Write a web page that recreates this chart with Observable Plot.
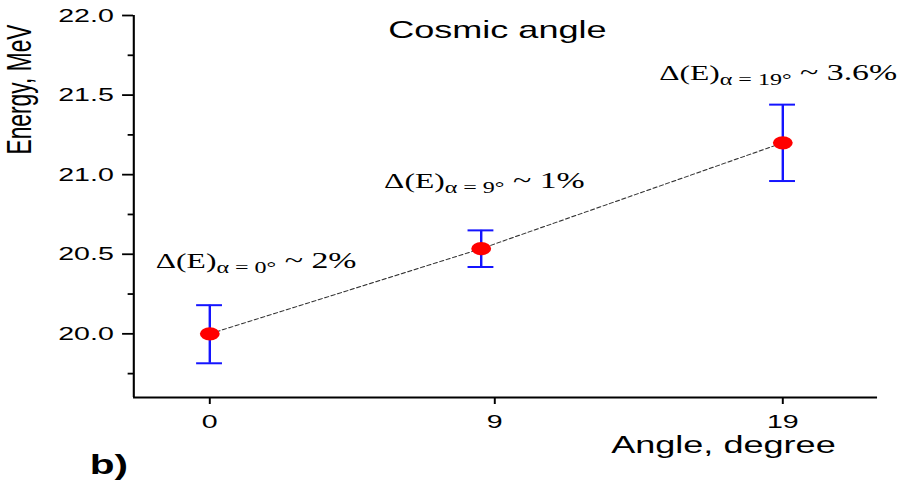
<!DOCTYPE html>
<html>
<head>
<meta charset="utf-8">
<script src="https://cdn.jsdelivr.net/npm/d3@7"></script>
<script src="https://cdn.jsdelivr.net/npm/@observablehq/plot@0.6"></script>
<style>
  html, body { margin: 0; padding: 0; background: #fff; }
  #chart { width: 902px; height: 484px; overflow: hidden; }
</style>
</head>
<body>
<div id="chart"></div>
<script>
// ---- data ----
const angles = [0, 9, 19];
const energy = [20.0, 20.535, 21.2];
const errLow = [19.815, 20.42, 20.96];
const errHigh = [20.18, 20.65, 21.44];

const yMajorTicks = [20.0, 20.5, 21.0, 21.5, 22.0];
const yMinorTicks = [19.75, 20.25, 20.75, 21.25, 21.75];
const xTickValues = [0, 9.45, 19];
const xTickLabels = ["0", "9", "19"];

const annAngles = ["0", "9", "19"];
const annPercents = ["2%", "1%", "3.6%"];
const annX = [-1.79, 5.78, 14.9];
const annY = [20.415, 20.918, 21.597];

const chartTitle = "Cosmic angle";
const xLabel = "Angle, degree";
const yLabel = "Energy, MeV";
const panelLabel = "b)";

// ---- tables built from arrays ----
const points = angles.map((a, i) => ({angle: a, energy: energy[i], lo: errLow[i], hi: errHigh[i]}));
const anns = annAngles.map((a, i) => ({
  x: annX[i], y: annY[i], sub: "\u03B1\u00A0=\u00A0" + a + "\u00B0", tail: "\u00A0~\u00A0" + annPercents[i]
}));

const xDomain = [-2.52, 22.15];
const yDomain = [19.6, 22.0];

// internal drawing width; the whole figure is stretched horizontally to 902px
const W = 600, H = 484;
const blue = "#1414ff";

const svg = Plot.plot({
  width: W,
  height: H,
  marginLeft: 88.5,
  marginRight: 16.6,
  marginTop: 15,
  marginBottom: 87,
  style: {fontFamily: "Liberation Sans, Arial, sans-serif", color: "#000", background: "#fff", overflow: "visible"},
  x: {domain: xDomain, label: null},
  y: {domain: yDomain, label: null},
  marks: [
    Plot.axisY({ticks: yMajorTicks, tickFormat: d3.format(".1f"), tickSize: 7.3, tickPadding: 6, fontSize: 19, strokeWidth: 1.8, label: null}),
    Plot.axisY({ticks: yMinorTicks, tickFormat: () => "", tickSize: 3.6, strokeWidth: 1.8, label: null}),
    Plot.axisX({ticks: xTickValues, tickFormat: (d) => xTickLabels[xTickValues.indexOf(d)], tickSize: 7, tickPadding: 10, fontSize: 19, strokeWidth: 1.3, label: null}),
    Plot.ruleX([xDomain[0]], {stroke: "#000", strokeWidth: 1.4}),
    Plot.ruleY([yDomain[0]], {stroke: "#000", strokeWidth: 2}),
    Plot.line(points, {x: "angle", y: "energy", stroke: "#333", strokeWidth: 1, strokeDasharray: "2.7,2"}),
    Plot.ruleX(points, {x: "angle", y1: "lo", y2: "hi", stroke: blue, strokeWidth: 1.6}),
    Plot.ruleY(points, {y: "hi", x1: "angle", x2: "angle", insetLeft: -8.6, insetRight: -8.6, stroke: blue, strokeWidth: 2}),
    Plot.ruleY(points, {y: "lo", x1: "angle", x2: "angle", insetLeft: -8.6, insetRight: -8.6, stroke: blue, strokeWidth: 2}),
    Plot.dot(points, {x: "angle", y: "energy", r: 6.6, fill: "#ff0000", stroke: null}),
    Plot.text(anns, {x: "x", y: "y", text: d => "\u0394(E)" + d.sub + d.tail, textAnchor: "start", lineAnchor: "bottom",
      fontFamily: "Liberation Serif, Times New Roman, serif", fontSize: 21, fill: "#000", ariaDescription: "annotations"}),
    Plot.text([chartTitle], {text: d => d, frameAnchor: "top", dx: -5.6, dy: 22, lineAnchor: "bottom", fontSize: 24, fill: "#000"}),
    Plot.text([xLabel], {text: d => d, frameAnchor: "bottom-right", dx: -28, dy: 55, textAnchor: "end", lineAnchor: "bottom", fontSize: 24, fill: "#000"}),
    Plot.text([yLabel], {text: d => d, frameAnchor: "top-left", dx: -68.5, dy: 74, rotate: -90, textAnchor: "middle", lineAnchor: "bottom", fontSize: 22.8, fill: "#000"}),
    Plot.text([panelLabel], {text: d => d, frameAnchor: "bottom-left", dx: -29.3, dy: 76, textAnchor: "start", lineAnchor: "bottom", fontSize: 27, fontWeight: "bold", fill: "#000"})
  ]
});

// rich annotation text: main, subscript, tail
const annGroup = svg.querySelector('g[aria-description="annotations"]');
if (annGroup) {
  const ns = "http://www.w3.org/2000/svg";
  annGroup.querySelectorAll("text").forEach((t, j) => {
    const d = anns[j];
    while (t.firstChild) t.removeChild(t.firstChild);
    const a = document.createElementNS(ns, "tspan");
    a.textContent = "\u0394(E)";
    const b = document.createElementNS(ns, "tspan");
    b.setAttribute("dy", "5");
    b.setAttribute("font-size", "16");
    b.textContent = d.sub;
    const c = document.createElementNS(ns, "tspan");
    c.setAttribute("dy", "-5");
    c.setAttribute("font-size", "22.5");
    c.textContent = d.tail;
    t.append(a, b, c);
  });
}

// stretch horizontally like the reference figure
svg.setAttribute("width", 902);
svg.setAttribute("height", H);
svg.setAttribute("viewBox", `0 0 ${W} ${H}`);
svg.setAttribute("preserveAspectRatio", "none");
svg.style.width = "902px";
svg.style.height = H + "px";
svg.style.maxWidth = "none";
document.getElementById("chart").appendChild(svg);
</script>
</body>
</html>
